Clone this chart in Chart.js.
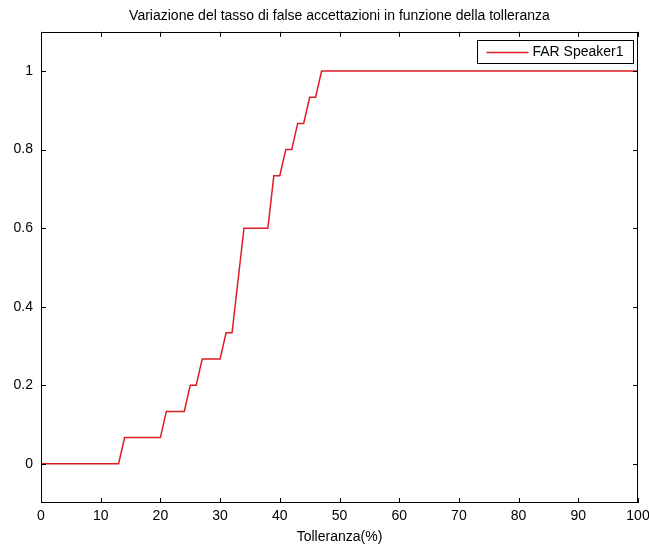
<!DOCTYPE html>
<html>
<head>
<meta charset="utf-8">
<script src="https://cdn.jsdelivr.net/npm/chart.js@4/dist/chart.umd.min.js"></script>
<style>
  body { margin: 0; background: #fff; }
</style>
</head>
<body>
<canvas id="far-chart" width="649" height="546"></canvas>
<script>
// vertici della curva
var tolleranza = [0, 13, 14, 20, 21, 24, 25, 26, 27, 30, 31, 32, 34, 38, 39, 40, 41, 42, 43, 44, 45, 46, 47, 100];
var far = [0, 0, 0.0667, 0.0667, 0.1333, 0.1333, 0.2, 0.2, 0.2667, 0.2667, 0.3333, 0.3333, 0.6, 0.6,
           0.7333, 0.7333, 0.8, 0.8, 0.8667, 0.8667, 0.9333, 0.9333, 1, 1];
var xTicks = [0, 10, 20, 30, 40, 50, 60, 70, 80, 90, 100];
var yTicks = [0, 0.2, 0.4, 0.6, 0.8, 1];

var FONT = "'Liberation Sans', Arial, sans-serif";

var boxTicks = {
  id: 'boxTicks',
  afterDraw: function (chart) {
    var ctx = chart.ctx, a = chart.chartArea;
    var x = chart.scales.x, y = chart.scales.y;
    ctx.save();
    ctx.strokeStyle = '#000';
    ctx.lineWidth = 1;
    ctx.beginPath();
    xTicks.forEach(function (v) {
      var px = Math.round(x.getPixelForValue(v)) + 0.5;
      ctx.moveTo(px, a.bottom); ctx.lineTo(px, a.bottom - 5);
      ctx.moveTo(px, a.top); ctx.lineTo(px, a.top + 5);
    });
    yTicks.forEach(function (v) {
      var py = Math.round(y.getPixelForValue(v)) + 0.5;
      ctx.moveTo(a.left, py); ctx.lineTo(a.left + 5, py);
      ctx.moveTo(a.right, py); ctx.lineTo(a.right - 5, py);
    });
    ctx.stroke();
    ctx.strokeRect(Math.round(a.left) + 0.5, Math.round(a.top) + 0.5,
                   Math.round(a.width) - 1, Math.round(a.height) - 1);

    // legenda in alto a destra
    var ds = chart.data.datasets[0];
    var bw = 156, bh = 23;
    var bx = Math.round(a.right) - 5 - bw + 0.5, by = Math.round(a.top) + 8 + 0.5;
    ctx.fillStyle = '#fff';
    ctx.fillRect(bx, by, bw, bh);
    ctx.strokeRect(bx, by, bw, bh);
    ctx.strokeStyle = ds.borderColor;
    ctx.lineWidth = 1.5;
    ctx.beginPath();
    ctx.moveTo(bx + 9, by + 12); ctx.lineTo(bx + 51, by + 12);
    ctx.stroke();
    ctx.fillStyle = '#000';
    ctx.font = '14px ' + FONT;
    ctx.textBaseline = 'middle';
    ctx.fillText(ds.label, bx + 55, by + 12);
    ctx.restore();
  }
};

var chart1 = new Chart(document.getElementById('far-chart'), {
  type: 'line',
  data: {
    datasets: [{
      label: 'FAR Speaker1',
      data: tolleranza.map(function (t, i) { return { x: t, y: far[i] }; }),
      borderColor: 'rgb(222, 28, 36)',
      borderWidth: 1.5,
      pointRadius: 0,
      tension: 0,
      fill: false
    }]
  },
  options: {
    responsive: false,
    animation: false,
    layout: { padding: { left: 0, right: 11, top: 0, bottom: 0 } },
    plugins: {
      legend: { display: false },
      tooltip: { enabled: false },
      title: {
        display: true,
        fullSize: false,
        text: 'Variazione del tasso di false accettazioni in funzione della tolleranza',
        color: '#000',
        font: { family: FONT, size: 14, weight: 'normal' },
        padding: { top: 8, bottom: 7 }
      }
    },
    scales: {
      x: {
        type: 'linear',
        min: 0,
        max: 100,
        afterBuildTicks: function (s) { s.ticks = xTicks.map(function (v) { return { value: v }; }); },
        afterFit: function (s) { s.height = 43; s.paddingLeft = 0; s.paddingRight = 0; },
        grid: { display: false, drawTicks: false },
        border: { display: false },
        ticks: {
          color: '#000',
          padding: 5,
          maxRotation: 0,
          font: { family: FONT, size: 14 },
          callback: function (v) { return String(v); }
        },
        title: {
          display: true,
          text: 'Tolleranza(%)',
          color: '#000',
          font: { family: FONT, size: 14 },
          padding: { top: 2, bottom: 0 }
        }
      },
      y: {
        type: 'linear',
        min: -0.1,
        max: 1.1,
        afterBuildTicks: function (s) { s.ticks = yTicks.map(function (v) { return { value: v }; }); },
        afterFit: function (s) { s.width = 41; s.paddingTop = 0; s.paddingBottom = 0; },
        grid: { display: false, drawTicks: false },
        border: { display: false },
        ticks: {
          color: '#000',
          padding: 8,
          font: { family: FONT, size: 14 },
          callback: function (v) { return String(v); }
        }
      }
    }
  },
  plugins: [boxTicks]
});
</script>
</body>
</html>
